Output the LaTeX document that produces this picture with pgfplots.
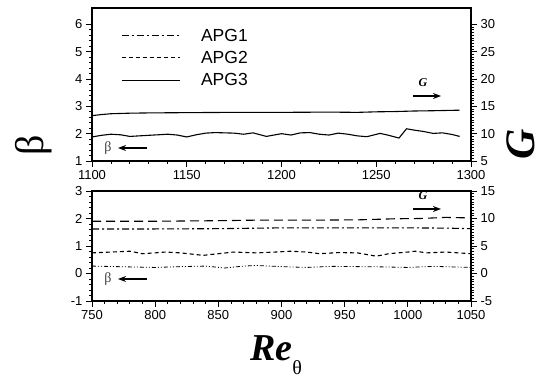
\documentclass[border=0pt]{standalone}
\usepackage{fontspec}
\setmainfont{Liberation Sans}
\newfontfamily\serif{Liberation Serif}
\usepackage{pgfplots}
\pgfplotsset{compat=1.18}
\usetikzlibrary{arrows.meta}

% beta(Re_theta) and G(Re_theta) for the three APG cases
\pgfplotstableread{
x     b
1100  1.88
1105  1.94
1110  1.98
1115  1.96
1120  1.90
1125  1.92
1130  1.94
1135  1.96
1140  1.98
1145  1.95
1150  1.88
1155  1.96
1160  2.02
1165  2.04
1170  2.03
1175  2.02
1180  1.98
1185  2.03
1192  1.90
1200  2.00
1205  1.95
1210  2.03
1215  2.04
1220  1.98
1225  1.95
1230  2.02
1235  1.98
1240  1.92
1245  1.89
1252  2.01
1256  1.95
1262  1.84
1266  2.18
1270  2.13
1275  2.08
1280  2.01
1285  2.03
1290  1.97
1294  1.90
}\betaAPGthree

\pgfplotstableread{
x     G
1100  13.3
1105  13.5
1110  13.65
1120  13.75
1130  13.8
1150  13.85
1175  13.9
1200  13.9
1225  13.95
1240  13.9
1250  14.0
1260  14.05
1270  14.15
1280  14.2
1294  14.3
}\GAPGthree

\pgfplotstableread{
x     b
750   0.27
770   0.25
800   0.22
820   0.25
840   0.27
855   0.20
870   0.27
880   0.29
900   0.25
920   0.22
940   0.26
960   0.25
980   0.24
1000  0.22
1020  0.26
1035  0.24
1050  0.22
}\betaAPGone

\pgfplotstableread{
x     b
750   0.75
760   0.77
780   0.81
790   0.72
800   0.75
808   0.78
820   0.75
838   0.66
850   0.72
862   0.78
880   0.75
895   0.78
907   0.81
920   0.78
930   0.72
945   0.76
960   0.75
975   0.63
985   0.72
1000  0.78
1006  0.81
1015  0.75
1030  0.78
1050  0.72
}\betaAPGtwo

\pgfplotstableread{
x     G
750   8.1
800   8.1
850   8.15
900   8.3
950   8.3
1000  8.3
1030  8.25
1050  8.15
}\GAPGone

\pgfplotstableread{
x     G
750   9.5
800   9.5
850   9.6
880   9.7
920   9.7
960   9.75
990   9.95
1010  10.0
1030  10.2
1050  10.1
}\GAPGtwo

\pgfplotsset{
  panel/.style={
    scale only axis, width=379pt,
    tick align=outside,
    major tick length=6pt, minor tick length=3pt,
    every tick/.style={black, line width=0.9pt},
    axis line style={line width=1.3pt},
    tick label style={font=\fontsize{13}{13}\selectfont},
    /pgf/number format/assume math mode=true,
    /pgf/number format/1000 sep={},
    clip=false,
  },
  apgone/.style={black, line width=1.1pt, dash pattern=on 7pt off 3pt on 2pt off 3pt},
  apgtwo/.style={black, line width=1.1pt, dash pattern=on 4pt off 3pt},
  apgthree/.style={black, line width=1.1pt},
}

\begin{document}
\begin{tikzpicture}
\useasboundingbox (0pt,0pt) rectangle (546pt,-379pt);

% ---------- upper panel: APG3 ----------
\begin{axis}[panel, at={(92pt,-161pt)}, anchor=south west, height=153pt,
  xmin=1100, xmax=1300, xtick distance=50, minor x tick num=4,
  ymin=1, ymax=6.6, ytick={1,...,6}, minor y tick num=4,
  tick pos=left,
  legend style={at={(0.068,0.885)}, anchor=north west, draw=none, fill=none,
    font=\fontsize{17.5}{21}\selectfont, row sep=6.5pt, column sep=20pt,
    nodes={inner sep=1pt}},
  legend cell align=left,
  legend image code/.code={\draw[#1] (0pt,0pt) -- (58pt,0pt);},
]
\addlegendimage{apgone}\addlegendentry{APG1}
\addlegendimage{apgtwo}\addlegendentry{APG2}
\addlegendimage{apgthree}\addlegendentry{APG3}
\addplot[apgthree, forget plot] table[x=x, y=b] {\betaAPGthree};
\end{axis}
\begin{axis}[panel, at={(92pt,-161pt)}, anchor=south west, height=153pt,
  xmin=1100, xmax=1300, hide x axis,
  ymin=5, ymax=33, ytick={5,10,...,30}, minor y tick num=9,
  axis y line*=right,
]
\addplot[apgthree] table[x=x, y=G] {\GAPGthree};
\end{axis}

% ---------- lower panel: APG1 and APG2 ----------
\begin{axis}[panel, at={(92pt,-301pt)}, anchor=south west, height=110pt,
  xmin=750, xmax=1050, xtick distance=50, minor x tick num=4,
  ymin=-1, ymax=3, ytick={-1,...,3}, minor y tick num=4,
  tick pos=left,
]
\addplot[black, line width=0.8pt, dash pattern=on 4pt off 2pt on 1pt off 2pt on 1pt off 2pt] table[x=x, y=b] {\betaAPGone};
\addplot[apgtwo] table[x=x, y=b] {\betaAPGtwo};
\end{axis}
\begin{axis}[panel, at={(92pt,-301pt)}, anchor=south west, height=110pt,
  xmin=750, xmax=1050, hide x axis,
  ymin=-5, ymax=15, ytick={-5,0,...,15}, minor y tick num=9,
  axis y line*=right,
]
\addplot[apgone] table[x=x, y=G] {\GAPGone};
\addplot[black, line width=1.1pt, dash pattern=on 9pt off 5pt] table[x=x, y=G] {\GAPGtwo};
\end{axis}

% direction hints: beta read on the left scale, G on the right scale
\foreach \yb/\yg in {-148/-96, -279/-209} {
  \node[text=black!75] at (108pt,\yb pt) {\serif\fontsize{14}{14}\selectfont β};
  \draw[line width=1.4pt, -{Stealth[length=8pt,width=6pt]}] (147pt,\yb pt) -- (118pt,\yb pt);
  \draw[line width=1.4pt, -{Stealth[length=8pt,width=6pt]}] (413pt,\yg pt) -- (441pt,\yg pt);
  \node at (423pt,\yg pt+13pt) {\serif\bfseries\itshape\fontsize{12}{12}\selectfont G};
}

% axis titles
\node[rotate=90] at (34pt,-145pt) {\serif\fontsize{40}{40}\selectfont β};
\node[rotate=90] at (521pt,-144pt) {\serif\bfseries\itshape\fontsize{42}{42}\selectfont G};
\node[anchor=base west, inner sep=0pt] at (250pt,-360pt)
  {\serif\bfseries\itshape\fontsize{38}{38}\selectfont Re\raisebox{-14pt}{\mdseries\upshape\fontsize{20}{20}\selectfont θ}};
\end{tikzpicture}
\end{document}
